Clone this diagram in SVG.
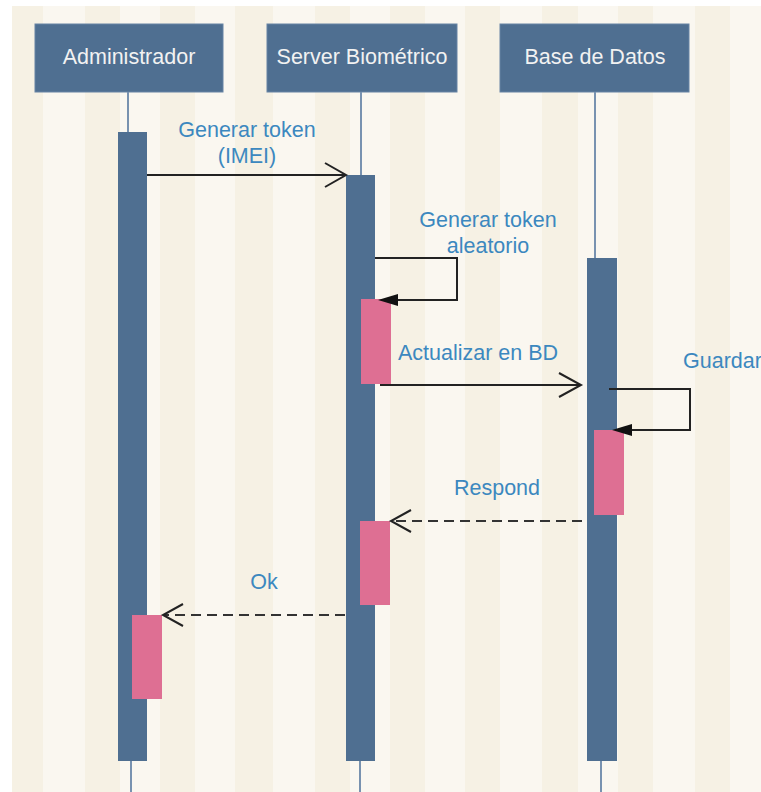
<svg xmlns="http://www.w3.org/2000/svg" width="761" height="792" viewBox="0 0 761 792">
  <style>
    .band { fill: #f6f1e4; }
    .head { fill: #4f6f91; stroke: #6784a4; stroke-width: 1; }
    .head-text { fill: #f2f2f2; font-family: "Liberation Sans", Arial, sans-serif; font-size: 21.5px; text-anchor: middle; }
    .life { stroke: #7892b0; stroke-width: 2; fill: none; }
    .bar { fill: #4f6f91; }
    .act { fill: #de6f93; }
    .msg { stroke: #222; stroke-width: 2; fill: none; }
    .dash { stroke-dasharray: 10 6; stroke: #333; }
    .lbl { fill: #3c88bf; font-family: "Liberation Sans", Arial, sans-serif; font-size: 21.5px; text-anchor: middle; }
    .head-open { stroke: #222; stroke-width: 2; fill: none; }
    .head-fill { fill: #111; }
  </style>

  <!-- striped backdrop -->
  <rect x="0" y="0" width="761" height="792" fill="#ffffff"/>
  <rect x="12" y="6" width="749" height="786" fill="#faf7f0"/>
  <g id="bands">
    <rect class="band" x="12" y="6" width="31" height="786"/>
    <rect class="band" x="85" y="6" width="35" height="786"/>
    <rect class="band" x="160" y="6" width="35" height="786"/>
    <rect class="band" x="235" y="6" width="38" height="786"/>
    <rect class="band" x="315" y="6" width="35" height="786"/>
    <rect class="band" x="390" y="6" width="35" height="786"/>
    <rect class="band" x="465" y="6" width="35" height="786"/>
    <rect class="band" x="542" y="6" width="36" height="786"/>
    <rect class="band" x="618" y="6" width="35" height="786"/>
    <rect class="band" x="695" y="6" width="35" height="786"/>
  </g>

  <!-- participants -->
  <g id="administrador">
    <rect class="head" x="35" y="24" width="188" height="68"/>
    <text class="head-text" x="129" y="64">Administrador</text>
    <line class="life" x1="128" y1="92" x2="128" y2="132"/>
    <line class="life" x1="131" y1="761" x2="131" y2="792"/>
    <rect class="bar" x="118" y="132" width="29" height="629"/>
    <rect class="act" x="132" y="615" width="30" height="84"/>
  </g>

  <g id="server-biometrico">
    <rect class="head" x="267" y="24" width="190" height="68"/>
    <text class="head-text" x="362" y="64">Server Biométrico</text>
    <line class="life" x1="361" y1="92" x2="361" y2="175"/>
    <line class="life" x1="360" y1="761" x2="360" y2="792"/>
    <rect class="bar" x="346" y="175" width="29" height="586"/>
    <rect class="act" x="361" y="299" width="30" height="85"/>
    <rect class="act" x="360" y="521" width="30" height="84"/>
  </g>

  <g id="base-de-datos">
    <rect class="head" x="500" y="24" width="189" height="68"/>
    <text class="head-text" x="595" y="64">Base de Datos</text>
    <line class="life" x1="595" y1="92" x2="595" y2="258"/>
    <line class="life" x1="601" y1="761" x2="601" y2="792"/>
    <rect class="bar" x="587" y="258" width="30" height="503"/>
    <rect class="act" x="594" y="430" width="30" height="85"/>
  </g>

  <!-- messages -->
  <g id="connectors">
    <!-- Generar token (IMEI) -->
    <line class="msg" x1="147" y1="175" x2="346" y2="175"/>
    <polyline class="head-open" points="325,163 346,175 325,187"/>

    <!-- Generar token aleatorio (self call) -->
    <polyline class="msg" points="375,258 457,258 457,300 396,300"/>
    <polygon class="head-fill" points="378,300 398,294 398,306"/>

    <!-- Actualizar en BD -->
    <line class="msg" x1="380" y1="385" x2="581" y2="385"/>
    <polyline class="head-open" points="559,373 581,385 559,397"/>

    <!-- Guardar (self call) -->
    <polyline class="msg" points="609,389 690,389 690,430 630,430"/>
    <polygon class="head-fill" points="612,430 632,424 632,436"/>

    <!-- Respond -->
    <line class="msg dash" x1="582" y1="521" x2="392" y2="521"/>
    <polyline class="head-open" points="411,510 391,521 411,532"/>

    <!-- Ok -->
    <line class="msg dash" x1="345" y1="615" x2="164" y2="615"/>
    <polyline class="head-open" points="183,604 163,615 183,626"/>
  </g>

  <!-- message labels -->
  <g id="labels">
    <text class="lbl" x="247" y="137">Generar token</text>
    <text class="lbl" x="247" y="163">(IMEI)</text>
    <text class="lbl" x="488" y="227">Generar token</text>
    <text class="lbl" x="488" y="253">aleatorio</text>
    <text class="lbl" x="478" y="360">Actualizar en BD</text>
    <text class="lbl" x="683" y="368" style="text-anchor:start">Guardar</text>
    <text class="lbl" x="497" y="495">Respond</text>
    <text class="lbl" x="264" y="589">Ok</text>
  </g>
</svg>
